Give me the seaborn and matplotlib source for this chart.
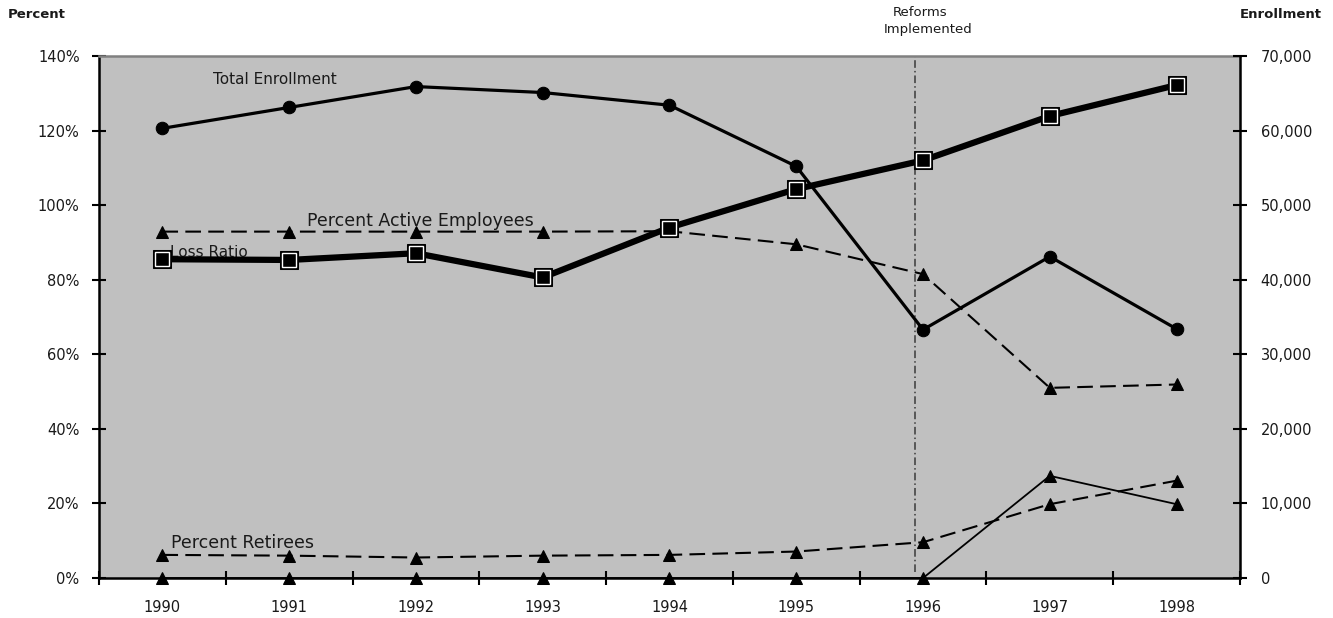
import matplotlib
matplotlib.use("Agg")
import matplotlib.pyplot as plt
import matplotlib.ticker as mticker
import numpy as np
import pandas as pd
import seaborn as sns

# ---- data ---------------------------------------------------------------
years = [1990, 1991, 1992, 1993, 1994, 1995, 1996, 1997, 1998]
loss_ratio = [85.5, 85.3, 87.1, 80.6, 94.0, 104.3, 112.0, 123.9, 132.2]
active_pct = [92.9, 92.9, 92.9, 92.9, 93.0, 89.5, 81.5, 51.0, 51.9]
retiree_pct = [6.2, 6.0, 5.5, 6.0, 6.2, 7.1, 9.6, 19.8, 26.1]
other_pct = [0, 0, 0, 0, 0, 0, 0, 27.4, 19.8]
enrollment = [60300, 63100, 65900, 65100, 63400, 55200, 33300, 43100, 33400]

pct_ticks = [0, 20, 40, 60, 80, 100, 120, 140]
enroll_ticks = [0, 10000, 20000, 30000, 40000, 50000, 60000, 70000]
reform_year = 1995.94

df = pd.DataFrame({
    "year": years,
    "loss_ratio": loss_ratio,
    "active_pct": active_pct,
    "retiree_pct": retiree_pct,
    "other_pct": other_pct,
    "enrollment": enrollment,
})

# ---- style --------------------------------------------------------------
sns.set_theme(style="white")
plt.rcParams["font.family"] = ["DejaVu Sans"]
TXT = "#1a1a1a"

fig = plt.figure(figsize=(13.33, 6.18), dpi=100)
ax = fig.add_axes([0.0743, 0.0647, 0.8559, 0.8447])
ax.set_facecolor("#c0c0c0")
ax2 = ax.twinx()
ax2.patch.set_visible(False)

dash = (0, (7.5, 3.5))

# percent series (left axis)
sns.lineplot(data=df, x="year", y="active_pct", ax=ax, color="black",
             lw=1.5, linestyle=dash, marker="^", markersize=8.5,
             markeredgecolor="black", zorder=3)
sns.lineplot(data=df, x="year", y="retiree_pct", ax=ax, color="black",
             lw=1.5, linestyle=dash, marker="^", markersize=8.5,
             markeredgecolor="black", zorder=3)
sns.lineplot(data=df, x="year", y="other_pct", ax=ax, color="black",
             lw=1.3, marker="^", markersize=8.5, markeredgecolor="black",
             zorder=3, clip_on=False)
sns.lineplot(data=df, x="year", y="loss_ratio", ax=ax, color="black",
             lw=4.5, marker="s", markersize=13, markeredgecolor="black",
             markerfacecolor="black", zorder=4)
# bevelled square markers: inner frame in white
ax.plot(df["year"], df["loss_ratio"], ls="none", marker="s", markersize=9.5,
        markerfacecolor="black", markeredgecolor="white",
        markeredgewidth=1.0, zorder=5)

# enrollment (right axis)
sns.lineplot(data=df, x="year", y="enrollment", ax=ax2, color="black",
             lw=2.3, marker="o", markersize=9, markeredgecolor="black",
             zorder=3)

# reform marker line
ax.axvline(reform_year, ymin=0.012, ymax=1, color="#3a3a3a", lw=1.1,
           linestyle=(0, (5, 2, 1, 2)), zorder=2)

# ---- axes ---------------------------------------------------------------
ax.set_xlim(1989.5, 1998.5)
ax.set_ylim(0, 140)
ax2.set_ylim(0, 70000)

ax.set_xticks(np.arange(1989.5, 1999.0, 1.0))
ax.set_xticklabels([])
ax.set_xticks(years, minor=True)
ax.set_xticklabels([str(y) for y in years], minor=True, fontsize=10.5,
                   color=TXT)
ax.tick_params(axis="x", which="major", direction="inout", length=10,
               width=1.5, color="black", bottom=True)
ax.tick_params(axis="x", which="minor", length=0, pad=16, bottom=True)

ax.set_yticks(pct_ticks)
ax.yaxis.set_major_formatter(mticker.FuncFormatter(lambda v, p: f"{v:.0f}%"))
ax.tick_params(axis="y", direction="inout", length=10, width=1.5,
               color="black", labelsize=10.5, labelcolor=TXT, pad=9,
               left=True)

ax2.set_yticks(enroll_ticks)
ax2.yaxis.set_major_formatter(
    mticker.FuncFormatter(lambda v, p: f"{v:,.0f}"))
ax2.tick_params(axis="y", direction="inout", length=10, width=1.5,
                color="black", labelsize=10.5, labelcolor=TXT, pad=10,
                right=True)

ax.set_xlabel("")
ax.set_ylabel("")
ax2.set_ylabel("")
ax.grid(False)
ax2.grid(False)

for s in ("left", "bottom"):
    ax.spines[s].set_color("black")
    ax.spines[s].set_linewidth(1.8)
ax.spines["top"].set_color("#808080")
ax.spines["top"].set_linewidth(1.8)
ax.spines["right"].set_visible(False)
for s in ("left", "bottom", "top"):
    ax2.spines[s].set_visible(False)
ax2.spines["right"].set_color("black")
ax2.spines["right"].set_linewidth(1.8)

# ---- series labels ------------------------------------------------------
ax.text(1990.40, 133.8, "Total Enrollment", fontsize=11, color=TXT,
        va="center", ha="left", zorder=1)
ax.text(1991.14, 95.7, "Percent Active Employees", fontsize=12.5,
        color=TXT, va="center", ha="left", zorder=1)
ax.text(1990.06, 87.2, "Loss Ratio", fontsize=11, color=TXT,
        va="center", ha="left", zorder=1)
ax.text(1990.07, 9.4, "Percent Retirees", fontsize=12.5, color=TXT,
        va="center", ha="left", zorder=1)

# ---- outer titles -------------------------------------------------------
fig.text(8 / 1333, 1 - 14 / 618, "Percent", fontsize=9.5,
         fontweight="bold", color=TXT, ha="left", va="center")
fig.text(1322 / 1333, 1 - 14 / 618, "Enrollment", fontsize=9.5,
         fontweight="bold", color=TXT, ha="right", va="center")
fig.text(920 / 1333, 1 - 12 / 618, "Reforms", fontsize=9.5, color=TXT,
         ha="center", va="center")
fig.text(928 / 1333, 1 - 30 / 618, "Implemented", fontsize=9.5, color=TXT,
         ha="center", va="center")

fig.savefig("out.png", dpi=100)
